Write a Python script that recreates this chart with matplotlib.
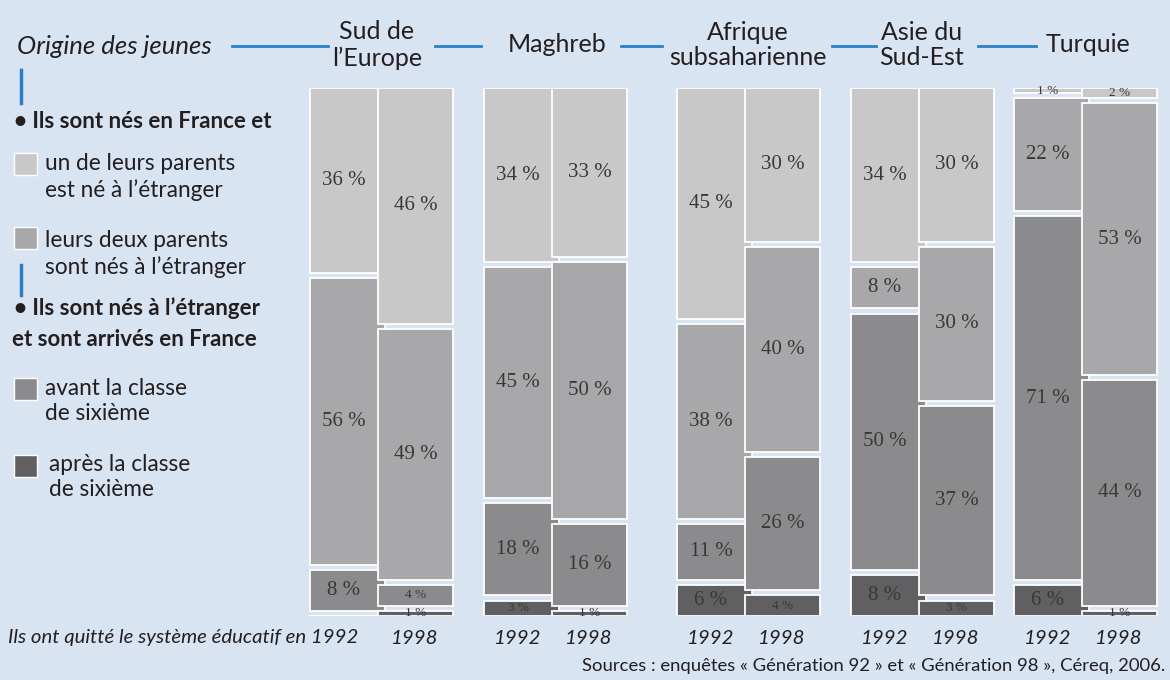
import matplotlib
matplotlib.use("Agg")
import matplotlib.pyplot as plt
from matplotlib.lines import Line2D
from matplotlib.patches import Rectangle

# --- data (percent, top to bottom: one parent abroad, both parents abroad,
#     arrived before sixième, arrived after sixième) ---
regions = ["Sud de\nl\u2019Europe", "Maghreb", "Afrique\nsubsaharienne",
           "Asie du\nSud-Est", "Turquie"]
years = ["1992", "1998"]
values_1992 = [
    [36, 56, 8, 0.5],
    [34, 45, 18, 3],
    [45, 38, 11, 6],
    [34, 8, 50, 8],
    [1, 22, 71, 6],
]
values_1998 = [
    [46, 49, 4, 1],
    [33, 50, 16, 1],
    [30, 40, 26, 4],
    [30, 30, 37, 3],
    [2, 53, 44, 1],
]
legend_labels = [
    "un de leurs parents\nest né à l\u2019étranger",
    "leurs deux parents\nsont nés à l\u2019étranger",
    "avant la classe\nde sixième",
    "après la classe\nde sixième",
]

# --- style / layout ---
W, H = 1170, 680
BG = "#d9e4f3"
BLUE = "#2b80c5"
TXT = "#231f20"
seg_colors = ["#c8c8c9", "#a8a8aa", "#8b8b8d", "#606062"]
group_left = [310, 484, 677, 851, 1014]
header_x = [377, 557, 748, 922, 1088]
bar_w = 75
offset_98 = 68
gap = 1.0
sans = "Lato"
serif = "Liberation Serif"


def fx(x):
    return x / W


def fy(y):
    return 1 - y / H


fig = plt.figure(figsize=(W / 100, H / 100), dpi=100)
fig.patch.set_facecolor(BG)

top_px, bot_px = 88, 616
ax = fig.add_axes([0, fy(bot_px), 1, (bot_px - top_px) / H])
ax.set_facecolor("none")
ax.set_xlim(0, W)
ax.set_ylim(100 + 3 * gap, 0)
ax.axis("off")


def draw_bar(x_left, vals, z, label_cx):
    y0 = 0
    for k, v in enumerate(vals):
        ax.bar(x_left, v, bottom=y0, width=bar_w, align="edge",
               color=seg_colors[k], edgecolor="white", linewidth=1.3, zorder=z)
        if v >= 1:
            small = v < 5
            ax.text(label_cx, y0 + v / 2, f"{v:g} %", ha="center", va="center",
                    fontsize=9.5 if small else 15, family=serif, color="#383838",
                    zorder=z + 1)
        y0 += v + gap


for i in range(len(regions)):
    xl = group_left[i]
    draw_bar(xl, values_1992[i], 2, xl + 34)
    draw_bar(xl + offset_98, values_1998[i], 4, xl + offset_98 + bar_w / 2)

# headers
for i, name in enumerate(regions):
    fig.text(fx(header_x[i]), fy(45), name, ha="center", va="center",
             fontsize=18, family=sans, color=TXT, linespacing=1.15)

fig.text(fx(17), fy(46), "Origine des jeunes", ha="left", va="center",
         fontsize=18.5, family=sans, style="italic", color=TXT)

# blue connector lines
for x0, x1 in [(232, 328), (435, 481), (621, 662), (832, 876), (978, 1036)]:
    fig.add_artist(Line2D([fx(x0), fx(x1)], [fy(46), fy(46)], color=BLUE, lw=2))
for y0, y1 in [(70, 103), (265, 295)]:
    fig.add_artist(Line2D([fx(21), fx(21)], [fy(y0), fy(y1)], color=BLUE, lw=2.5))

# legend
fig.text(fx(14), fy(121), "\u2022 Ils sont nés en France et", ha="left", va="center",
         fontsize=16, family=sans, weight="bold", color=TXT)
fig.text(fx(14), fy(308), "\u2022 Ils sont nés à l\u2019étranger", ha="left", va="center",
         fontsize=16, family=sans, weight="bold", color=TXT)
fig.text(fx(12), fy(340), "et sont arrivés en France", ha="left", va="center",
         fontsize=16, family=sans, weight="bold", color=TXT)

legend_sq_top = [153, 227, 378, 455]
legend_txt_y = [177, 254, 401, 477]
legend_txt_x = [45, 45, 45, 49]
for k, lab in enumerate(legend_labels):
    yt = legend_sq_top[k]
    fig.add_artist(Rectangle((fx(14), fy(yt + 22)), 23 / W, 22 / H,
                             facecolor=seg_colors[k], edgecolor="white", lw=1,
                             transform=fig.transFigure))
    fig.text(fx(legend_txt_x[k]), fy(legend_txt_y[k]), lab, ha="left", va="center",
             fontsize=16.3, family=sans, color=TXT, linespacing=1.25)

# years along the bottom
fig.text(fx(8), fy(638), "Ils ont quitté le système éducatif en 1992", ha="left",
         va="center", fontsize=14.7, family=sans, style="italic", color=TXT)
for i in range(len(regions)):
    xl = group_left[i]
    if i > 0:
        fig.text(fx(xl + 34), fy(638), years[0], ha="center", va="center",
                 fontsize=14.7, family=sans, style="italic", color=TXT)
    fig.text(fx(xl + offset_98 + bar_w / 2 - 1), fy(638), years[1], ha="center",
             va="center", fontsize=14.7, family=sans, style="italic", color=TXT)

fig.text(fx(1165), fy(666),
         "Sources : enquêtes « Génération 92 » et « Génération 98 », Céreq, 2006.",
         ha="right", va="center", fontsize=13.3, family=sans, color=TXT)

fig.savefig("out.png", dpi=100, facecolor=BG)
